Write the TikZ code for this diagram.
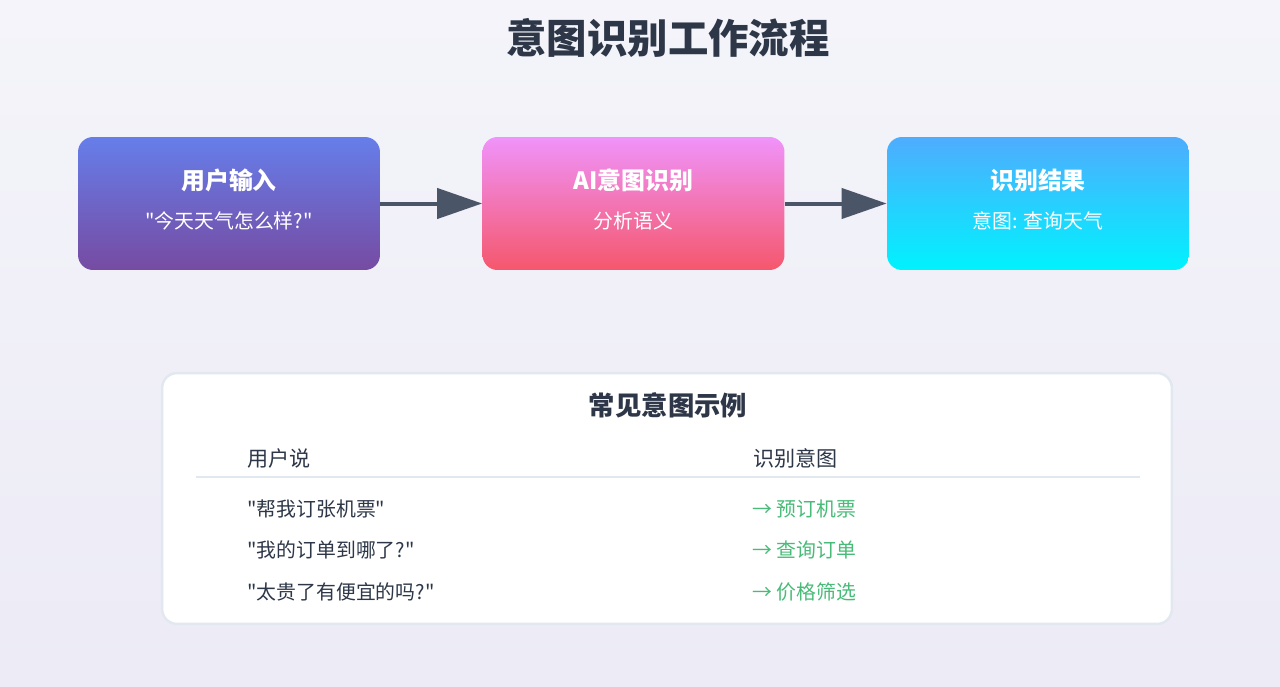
\documentclass[tikz,border=0pt]{standalone}
\usepackage{fontspec}
\setmainfont{Noto Sans CJK SC}[Ligatures = TeXOff]
\usepackage{tikz}
\usetikzlibrary{arrows.meta}
\definecolor{ink}{HTML}{2D3748}
\definecolor{slate}{HTML}{4A5568}
\definecolor{rulegrey}{HTML}{E2E8F0}
\definecolor{okgreen}{HTML}{48BB78}
\definecolor{bgtop}{HTML}{F4F4FA}
\definecolor{bgbottom}{HTML}{ECEBF6}
\tikzset{stage/.style = {shape = rectangle, rounded corners = 0.3cm, minimum width = 6.04cm, minimum height = 2.66cm}}
\tikzset{stagetitle/.style = {text = white, font = \fontsize{13.6}{16}\selectfont\bfseries}}
\tikzset{stagesub/.style = {text = white, font = \fontsize{11.3}{14}\selectfont}}
\tikzset{edge/.style = {-{Triangle[length = 0.9cm, width = 0.6cm]}, line width = 0.08cm, draw = slate}}
\tikzset{panel/.style = {shape = rectangle, rounded corners = 0.3cm, draw = rulegrey, line width = 0.05cm, fill = white, minimum width = 20.2cm, minimum height = 5.02cm}}
\tikzset{cell/.style = {anchor = west, inner sep = 0pt, font = \fontsize{11.3}{14}\selectfont}}

\begin{document}
\begin{tikzpicture}[x = 0.02cm, y = -0.02cm]
			\shade[top color = bgtop, bottom color = bgbottom] (0, 0) rectangle (1280, 686);
			\useasboundingbox (0, 0) rectangle (1280, 686);

			\node[text = ink, font = \fontsize{23}{28}\selectfont\bfseries] (title) at (668, 38) {意图识别工作流程};

			\node[stage, top color = {rgb,255:red,102;green,126;blue,234}, bottom color = {rgb,255:red,118;green,75;blue,162}] (a) at (229, 203.5) {};
			\node[stage, top color = {rgb,255:red,240;green,147;blue,251}, bottom color = {rgb,255:red,245;green,87;blue,108}] (b) at (633.5, 203.5) {};
			\node[stage, top color = {rgb,255:red,79;green,172;blue,254}, bottom color = {rgb,255:red,0;green,242;blue,254}] (c) at (1038, 203.5) {};

			\node[stagetitle] (a1) at (229, 180) {用户输入};
			\node[stagesub] (a2) at (229, 221) {"今天天气怎么样?"};
			\node[stagetitle] (b1) at (633.5, 180) {AI意图识别};
			\node[stagesub] (b2) at (633.5, 221) {分析语义};
			\node[stagetitle] (c1) at (1038, 180) {识别结果};
			\node[stagesub] (c2) at (1038, 221) {意图: 查询天气};

			\draw[edge] (a) to (b);
			\draw[edge] (b) to (c);

			\node[panel] (p) at (667, 498.5) {};
			\node[text = ink, font = \fontsize{15}{18}\selectfont\bfseries] (ptitle) at (668, 405) {常见意图示例};

			\node[cell, text = ink, font = \fontsize{12}{15}\selectfont] (h1) at (247, 458) {用户说};
			\node[cell, text = ink, font = \fontsize{12}{15}\selectfont] (h2) at (753, 458) {识别意图};
			\coordinate (l) at (196, 477);
			\coordinate (r) at (1140, 477);
			\draw[rulegrey, line width = 0.04cm] (l) -- (r);

			\node[cell, text = ink] (u1) at (247, 509) {"帮我订张机票"};
			\node[cell, text = ink] (u2) at (247, 550) {"我的订单到哪了?"};
			\node[cell, text = ink] (u3) at (247, 592) {"太贵了有便宜的吗?"};
			\node[cell, text = okgreen] (i1) at (752, 509) {→ 预订机票};
			\node[cell, text = okgreen] (i2) at (752, 550) {→ 查询订单};
			\node[cell, text = okgreen] (i3) at (752, 592) {→ 价格筛选};
		\end{tikzpicture}
\end{document}
